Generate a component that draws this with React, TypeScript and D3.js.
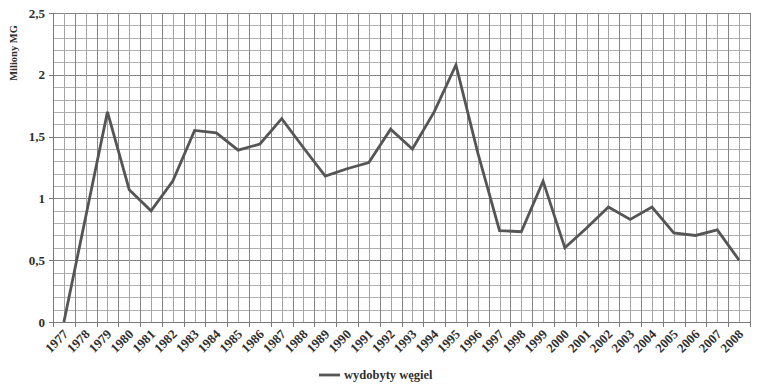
import React, { useEffect, useRef } from 'react';
import * as d3 from 'd3';

const years = [
  '1977', '1978', '1979', '1980', '1981', '1982', '1983', '1984', '1985', '1986', '1987',
  '1988', '1989', '1990', '1991', '1992', '1993', '1994', '1995', '1996', '1997', '1998',
  '1999', '2000', '2001', '2002', '2003', '2004', '2005', '2006', '2007', '2008',
];
const coal = [
  0, 0.85, 1.7, 1.07, 0.9, 1.14, 1.55, 1.53, 1.39, 1.44, 1.645,
  1.41, 1.18, 1.24, 1.29, 1.56, 1.4, 1.7, 2.08, 1.37, 0.74, 0.73,
  1.14, 0.6, 0.76, 0.93, 0.83, 0.93, 0.72, 0.7, 0.745, 0.5,
];
const yTicks = [0, 0.5, 1, 1.5, 2, 2.5];
const yTitle = 'Miliony MG';
const seriesName = 'wydobyty węgiel';

const App: React.FC = () => {
  const svgRef = useRef<SVGSVGElement>(null);

  useEffect(() => {
    if (!svgRef.current) {return;}
    const svg = d3.select(svgRef.current);
    svg.selectAll('*').remove();

    const margin = { top: 13, right: 9, bottom: 68, left: 53 };
    const width = 759;
    const height = 390;
    const innerW = width - margin.left - margin.right;
    const innerH = height - margin.top - margin.bottom;
    const font = '"Liberation Serif", "Times New Roman", serif';
    const lineColor = '#555555';
    const textColor = '#2e2e2e';

    const x = d3.scaleBand().domain(years).range([0, innerW]).padding(0);
    const y = d3.scaleLinear().domain([0, 2.5]).range([innerH, 0]);

    const g = svg.append('g').attr('transform', `translate(${margin.left},${margin.top})`);

    // siatka pozioma
    const minorY = d3.range(0, 26).map(i => i / 10);
    g.selectAll('.hgrid')
      .data(minorY)
      .enter()
      .append('line')
      .attr('x1', 0)
      .attr('x2', innerW)
      .attr('y1', d => Math.round(y(d)) + 0.5)
      .attr('y2', d => Math.round(y(d)) + 0.5)
      .attr('stroke', (d, i) => (i % 5 === 0 ? '#858585' : '#b0b0b0'))
      .attr('stroke-width', 1);

    // siatka pionowa
    const bw = x.bandwidth();
    const vLines: { pos: number; major: boolean }[] = [];
    years.forEach(yr => {
      const x0 = x(yr) || 0;
      vLines.push({ pos: x0, major: true });
      vLines.push({ pos: x0 + bw / 2, major: false });
    });
    vLines.push({ pos: innerW, major: true });
    g.selectAll('.vgrid')
      .data(vLines)
      .enter()
      .append('line')
      .attr('x1', d => Math.round(d.pos) + 0.5)
      .attr('x2', d => Math.round(d.pos) + 0.5)
      .attr('y1', 0)
      .attr('y2', innerH)
      .attr('stroke', d => (d.major ? '#858585' : '#a4a4a4'))
      .attr('stroke-width', 1);

    // osie
    g.append('line')
      .attr('x1', 0.5).attr('x2', 0.5)
      .attr('y1', 0).attr('y2', innerH)
      .attr('stroke', '#7a7a7a');
    g.append('line')
      .attr('x1', 0).attr('x2', innerW)
      .attr('y1', Math.round(innerH) + 0.5).attr('y2', Math.round(innerH) + 0.5)
      .attr('stroke', '#7a7a7a');

    // znaczniki osi Y
    g.selectAll('.ytick')
      .data(yTicks)
      .enter()
      .append('line')
      .attr('x1', -4)
      .attr('x2', 0)
      .attr('y1', d => Math.round(y(d)) + 0.5)
      .attr('y2', d => Math.round(y(d)) + 0.5)
      .attr('stroke', '#7a7a7a');

    g.selectAll('.ylabel')
      .data(yTicks)
      .enter()
      .append('text')
      .attr('x', -8)
      .attr('y', d => y(d))
      .attr('dy', '0.35em')
      .attr('text-anchor', 'end')
      .attr('font-family', font)
      .attr('font-weight', 'bold')
      .attr('font-size', 13)
      .attr('fill', textColor)
      .text(d => d3.format('')(d).replace('.', ','));

    // znaczniki osi X
    g.selectAll('.xtick')
      .data(vLines.filter(d => d.major))
      .enter()
      .append('line')
      .attr('x1', d => Math.round(d.pos) + 0.5)
      .attr('x2', d => Math.round(d.pos) + 0.5)
      .attr('y1', innerH)
      .attr('y2', innerH + 5)
      .attr('stroke', '#7a7a7a');

    g.selectAll('.xlabel')
      .data(years)
      .enter()
      .append('text')
      .attr('transform', d => `translate(${(x(d) || 0) + bw / 2 + 5},${innerH + 13}) rotate(-45)`)
      .attr('text-anchor', 'end')
      .attr('font-family', font)
      .attr('font-weight', 'bold')
      .attr('font-size', 13)
      .attr('fill', textColor)
      .text(d => d);

    // tytuł osi Y
    svg.append('text')
      .attr('transform', `translate(17,${margin.top + 40}) rotate(-90)`)
      .attr('text-anchor', 'middle')
      .attr('font-family', font)
      .attr('font-weight', 'bold')
      .attr('font-size', 10.5)
      .attr('fill', textColor)
      .text(yTitle);

    // linia danych
    const line = d3.line<number>()
      .x((d, i) => (x(years[i]) || 0) + bw / 2)
      .y(d => y(d));
    g.append('path')
      .datum(coal)
      .attr('d', line)
      .attr('fill', 'none')
      .attr('stroke', lineColor)
      .attr('stroke-width', 2.8)
      .attr('stroke-linejoin', 'miter');

    // legenda
    const legend = svg.append('g').attr('transform', 'translate(319,375)');
    legend.append('line')
      .attr('x1', 0).attr('x2', 21)
      .attr('y1', 0).attr('y2', 0)
      .attr('stroke', lineColor)
      .attr('stroke-width', 2.8);
    legend.append('text')
      .attr('x', 25)
      .attr('y', 0)
      .attr('dy', '0.35em')
      .attr('font-family', font)
      .attr('font-weight', 'bold')
      .attr('font-size', 12.5)
      .attr('fill', textColor)
      .text(seriesName);
  }, []);

  return (
    <svg
      ref={svgRef}
      width={759}
      height={390}
      style={{ position: 'absolute', left: 0, top: 0, background: '#fff' }}
    />
  );
};

export default App;
